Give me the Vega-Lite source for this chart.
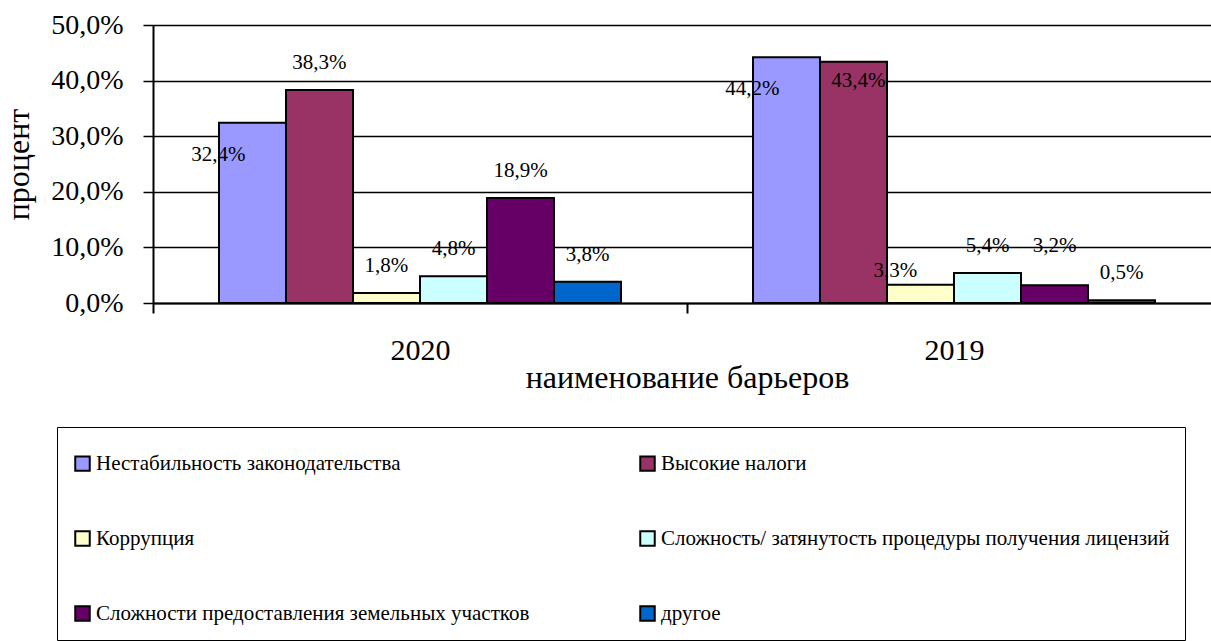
{
  "$schema": "https://vega.github.io/schema/vega-lite/v6.json",
  "width": 1068,
  "height": 278,
  "autosize": {"type": "none"},
  "padding": {"left": 153, "top": 25, "right": 0, "bottom": 338},
  "background": "white",
  "config": {"view": {"stroke": null}, "font": "Times New Roman, Liberation Serif, serif"},
  "data": {
    "values": [
      {"year": "2020", "cat": "Нестабильность законодательства", "value": 32.4},
      {"year": "2020", "cat": "Высокие налоги", "value": 38.3},
      {"year": "2020", "cat": "Коррупция", "value": 1.8},
      {"year": "2020", "cat": "Сложность/ затянутость процедуры получения лицензий", "value": 4.8},
      {"year": "2020", "cat": "Сложности предоставления земельных участков", "value": 18.9},
      {"year": "2020", "cat": "другое", "value": 3.8},
      {"year": "2019", "cat": "Нестабильность законодательства", "value": 44.2},
      {"year": "2019", "cat": "Высокие налоги", "value": 43.4},
      {"year": "2019", "cat": "Коррупция", "value": 3.3},
      {"year": "2019", "cat": "Сложность/ затянутость процедуры получения лицензий", "value": 5.4},
      {"year": "2019", "cat": "Сложности предоставления земельных участков", "value": 3.2},
      {"year": "2019", "cat": "другое", "value": 0.5}
    ]
  },
  "transform": [
    {"calculate": "replace(format(datum.value,'.1f'),'.',',')+'%'", "as": "label"}
  ],
  "encoding": {
    "x": {
      "field": "year", "type": "nominal", "sort": null,
      "scale": {"paddingInner": 0, "paddingOuter": 0},
      "axis": {
        "labelAngle": 0, "tickBand": "extent", "tickSize": 10, "tickColor": "black", "tickWidth": 2,
        "domainColor": "black", "domainWidth": 2, "labelFont": "Times New Roman, Liberation Serif, serif", "labelFontSize": 30,
        "labelColor": "black", "labelPadding": 22, "title": "наименование барьеров",
        "titleFont": "Times New Roman, Liberation Serif, serif", "titleFontSize": 32, "titleFontWeight": "normal", "titleColor": "black",
        "titlePadding": -3, "grid": false
      }
    },
    "xOffset": {
      "field": "cat", "type": "nominal", "sort": null,
      "scale": {"paddingOuter": 0.985, "paddingInner": 0}
    },
    "y": {
      "field": "value", "type": "quantitative", "scale": {"domain": [0, 50]},
      "axis": {
        "values": [0, 10, 20, 30, 40, 50],
        "labelExpr": "replace(format(datum.value,'.1f'),'.',',')+'%'",
        "labelFont": "Times New Roman, Liberation Serif, serif", "labelFontSize": 28, "labelColor": "black", "labelPadding": 20,
        "tickSize": 10, "tickColor": "black", "tickWidth": 1.5,
        "domainColor": "black", "domainWidth": 2,
        "grid": true, "gridColor": "black", "gridWidth": 1.5,
        "title": "процент", "titleFont": "Times New Roman, Liberation Serif, serif", "titleFontSize": 32, "titleFontWeight": "normal",
        "titleColor": "black", "titlePadding": 15
      }
    }
  },
  "layer": [
    {
      "mark": {"type": "bar", "stroke": "black", "strokeWidth": 2, "opacity": 1},
      "encoding": {
        "color": {
          "field": "cat", "type": "nominal",
          "scale": {
            "domain": ["Нестабильность законодательства", "Коррупция", "Сложности предоставления земельных участков", "Высокие налоги", "Сложность/ затянутость процедуры получения лицензий", "другое"],
            "range": ["#9999FF", "#FFFFCC", "#660066", "#993366", "#CCFFFF", "#0066CC"]
          },
          "legend": {
            "orient": "none", "legendX": -96, "legendY": 402, "columns": 2,
            "symbolType": "square", "symbolSize": 210, "symbolStrokeColor": "black", "symbolStrokeWidth": 2,
            "symbolOpacity": 1,
            "labelFont": "Times New Roman, Liberation Serif, serif", "labelFontSize": 21, "labelColor": "black", "labelOffset": 3,
            "labelLimit": 800, "columnPadding": 106, "rowPadding": 52, "padding": 15,
            "strokeColor": "black", "fillColor": "white",
            "title": "_", "titleFontSize": 1, "titleColor": "white", "titlePadding": 10
          }
        }
      }
    },
    {
      "transform": [{"filter": "!((datum.cat=='Нестабильность законодательства') || (datum.year=='2019' && (datum.cat=='Высокие налоги' || datum.cat=='Коррупция' || datum.cat=='Сложности предоставления земельных участков')))"}],
      "mark": {"type": "text", "baseline": "middle", "align": "center", "dy": -27, "font": "Times New Roman, Liberation Serif, serif", "fontSize": 21, "color": "black"},
      "encoding": {"text": {"field": "label"}}
    },
    {
      "transform": [{"filter": "datum.cat=='Нестабильность законодательства'"}],
      "mark": {"type": "text", "baseline": "middle", "align": "center", "dx": -34, "dy": 32, "font": "Times New Roman, Liberation Serif, serif", "fontSize": 21, "color": "black"},
      "encoding": {"text": {"field": "label"}}
    },
    {
      "transform": [{"filter": "datum.year=='2019' && datum.cat=='Высокие налоги'"}],
      "mark": {"type": "text", "baseline": "middle", "align": "center", "dx": 5, "dy": 19, "font": "Times New Roman, Liberation Serif, serif", "fontSize": 21, "color": "black"},
      "encoding": {"text": {"field": "label"}}
    },
    {
      "transform": [{"filter": "datum.year=='2019' && datum.cat=='Коррупция'"}],
      "mark": {"type": "text", "baseline": "middle", "align": "center", "dx": -25, "dy": -14, "font": "Times New Roman, Liberation Serif, serif", "fontSize": 21, "color": "black"},
      "encoding": {"text": {"field": "label"}}
    },
    {
      "transform": [{"filter": "datum.year=='2019' && datum.cat=='Сложности предоставления земельных участков'"}],
      "mark": {"type": "text", "baseline": "middle", "align": "center", "dy": -39, "font": "Times New Roman, Liberation Serif, serif", "fontSize": 21, "color": "black"},
      "encoding": {"text": {"field": "label"}}
    }
  ]
}
